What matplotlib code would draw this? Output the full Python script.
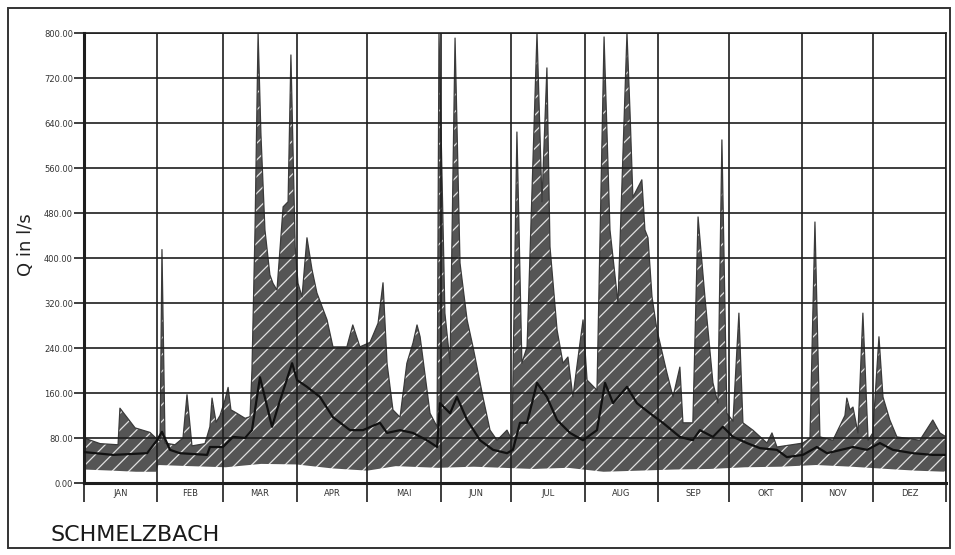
import numpy as np
import matplotlib
matplotlib.use("Agg")
import matplotlib.pyplot as plt
from matplotlib.patches import Rectangle

# month boundaries (day of year) and German month labels
month_edges = [0, 31, 59, 90, 120, 151, 181, 212, 243, 273, 304, 334, 365]
month_labels = ["JAN", "FEB", "MAR", "APR", "MAI", "JUN",
                "JUL", "AUG", "SEP", "OKT", "NOV", "DEZ"]

# upper envelope (max daily discharge), read at key points: day, l/s
max_days = [0, 6.8, 14.4, 15.2, 21.6, 27.9, 30.9, 32.2, 33.0, 34.3, 38.5, 41.9,
            43.6, 45.7, 51.2, 53.3, 54.2, 55.9, 57.6, 59.7, 61.0, 62.2, 63.9,
            68.2, 70.3, 71.1, 72.4, 73.7, 74.9, 76.6, 78.7, 80.0, 81.7, 84.3,
            86.4, 87.6, 89.4, 90.6, 92.3, 94.4, 96.5, 98.6, 102.9, 105.4, 111.3,
            113.8, 116.8, 121.1, 124.5, 126.6, 128.3, 130.8, 133.8, 136.7, 139.3,
            141.0, 142.3, 146.5, 149.5, 150.3, 152.8, 155.0, 157.1, 159.2, 162.2,
            164.7, 168.9, 171.9, 174.9, 179.1, 181.2, 183.3, 185.4, 187.6, 191.8,
            193.9, 196.0, 197.3, 200.3, 202.8, 204.9, 207.0, 211.3, 213.0, 217.2,
            220.2, 222.7, 226.1, 229.9, 231.2, 232.4, 236.2, 237.5, 238.8, 240.5,
            242.6, 246.8, 249.4, 252.3, 253.6, 257.8, 260.0, 262.9, 266.3, 268.4,
            270.1, 272.2, 274.8, 277.3, 279.0, 283.2, 289.2, 291.3, 293.4, 304.4,
            307.4, 309.5, 311.6, 317.1, 322.2, 323.0, 324.3, 325.6, 327.7, 329.8,
            332.0, 334.0, 336.6, 338.3, 341.2, 344.2, 353.9, 359.4, 362.4, 365]
max_vals = [80, 70, 68, 133, 98, 90, 78, 75, 415, 71, 68, 80,
            157, 66, 70, 100, 151, 108, 120, 148, 170, 130, 126,
            115, 118, 200, 450, 800, 620, 450, 370, 355, 343, 491,
            500, 761, 420, 355, 331, 436, 380, 338, 290, 242, 242,
            281, 242, 250, 284, 356, 213, 130, 117, 213, 249,
            281, 260, 124, 100, 800, 302, 213, 791, 391, 290,
            242, 153, 94, 76, 94, 76, 624, 213, 242, 800,
            500, 738, 420, 272, 213, 224, 153, 290, 183, 165,
            793, 450, 320, 800, 658, 508, 539, 450, 436, 331,
            272, 196, 153, 206, 107, 107, 473, 331, 178, 142,
            610, 124, 110, 302, 107, 94, 71, 89, 64, 71,
            80, 464, 82, 76, 120, 151, 130, 135, 89, 302,
            76, 89, 260, 153, 112, 82, 76, 112, 89, 82]

# lower envelope (min daily discharge)
min_days = [0, 12, 22, 30.5, 31.5, 45, 60, 75, 90, 105, 120, 132, 150, 165,
            190, 205, 220, 235, 250, 265, 280, 295, 310, 325, 340, 352, 365]
min_vals = [24, 22, 20, 20, 32, 30, 28, 34, 33, 26, 22, 30, 27, 29,
            25, 27, 20, 22, 24, 25, 28, 29, 32, 29, 25, 22, 20]

# mean daily discharge
mean_days = [0, 12.3, 26.7, 30.9, 33.0, 36.4, 40.6, 52.1, 53.3, 58.8, 63.1, 68.2,
             71.1, 74.5, 79.6, 82.1, 88.1, 90.2, 94.4, 99.9, 105.4, 112.6, 118.1,
             125.3, 128.3, 133.8, 139.3, 145.2, 149.5, 150.7, 155.0, 157.9, 162.2,
             167.7, 173.2, 179.1, 181.6, 184.6, 187.6, 191.8, 196.0, 200.3, 205.8,
             211.3, 217.2, 220.6, 224.0, 229.9, 234.1, 239.6, 245.1, 252.3, 257.8,
             260.8, 266.3, 270.5, 274.8, 280.7, 286.2, 293.4, 297.6, 304.4, 310.3,
             314.6, 325.6, 331.5, 337.0, 342.5, 351.0, 359.4, 365]
mean_vals = [55, 50, 53, 76, 91, 59, 53, 50, 64, 64, 82, 80,
             94, 188, 100, 135, 213, 183, 171, 153, 117, 94, 94,
             107, 89, 94, 89, 76, 64, 142, 124, 153, 112,
             76, 59, 53, 59, 107, 107, 178, 153, 112, 89,
             76, 94, 178, 142, 171, 142, 124, 107, 82, 76,
             94, 82, 100, 82, 71, 62, 59, 46, 50, 64,
             53, 64, 59, 71, 59, 53, 50, 50]

yticks = np.arange(0, 801, 80)

plt.rcParams["hatch.linewidth"] = 0.9

fig = plt.figure(figsize=(9.55, 5.55), dpi=100)
ax = fig.add_axes([0.088, 0.1297, 0.9026, 0.8108])

# hatched band: area under max, then blank out area under min
ax.fill_between(max_days, 0, max_vals, facecolor="#555555", edgecolor="#e0e0e0",
                hatch="//", linewidth=0, zorder=1)
ax.plot(max_days, max_vals, color="#3a3a3a", lw=0.9, zorder=1.5)
ax.fill_between(min_days, 0, min_vals, facecolor="white", edgecolor="none",
                linewidth=0, zorder=1.6)
ax.plot(mean_days, mean_vals, color="#111111", lw=1.6, zorder=3)

ax.set_xlim(0, 365)
ax.set_ylim(0, 800)

# grid drawn as plain lines so it sits over the hatching
for v in yticks:
    ax.axhline(v, color="#1e1e1e", lw=1.2, zorder=2.5)
for d in month_edges:
    ax.axvline(d, color="#1e1e1e", lw=1.2, zorder=2.5)

ax.set_yticks(yticks)
ax.set_yticklabels([f"{v:.2f}" for v in yticks], fontsize=6, color="#333333")
ax.tick_params(axis="y", direction="out", length=7, width=1.2, pad=1,
               color="#1e1e1e")

ax.set_xticks(month_edges)
ax.set_xticklabels([])
ax.tick_params(axis="x", which="major", direction="out", length=14, width=1.2,
               color="#1e1e1e")
centers = [(a + b) / 2 for a, b in zip(month_edges[:-1], month_edges[1:])]
ax.set_xticks(centers, minor=True)
ax.set_xticklabels(month_labels, minor=True, fontsize=6, color="#333333")
ax.tick_params(axis="x", which="minor", length=0, pad=4)

for side in ["top", "right"]:
    ax.spines[side].set_linewidth(1.2)
    ax.spines[side].set_color("#1e1e1e")
for side in ["left", "bottom"]:
    ax.spines[side].set_linewidth(2.2)
    ax.spines[side].set_color("#1e1e1e")

ax.set_ylabel("Q in l/s", fontsize=13, color="#222222")
ax.yaxis.set_label_coords(-0.057, 0.53)

fig.text(50 / 955, 1 - 535 / 555, "SCHMELZBACH", fontsize=16, color="#1a1a1a",
         ha="left", va="center")

# outer frame of the plate
fig.patches.append(Rectangle((8 / 955, 1 - 548 / 555), 942 / 955, 540 / 555,
                             transform=fig.transFigure, fill=False,
                             edgecolor="#333333", lw=1.4))

fig.savefig("out.png", dpi=100)
